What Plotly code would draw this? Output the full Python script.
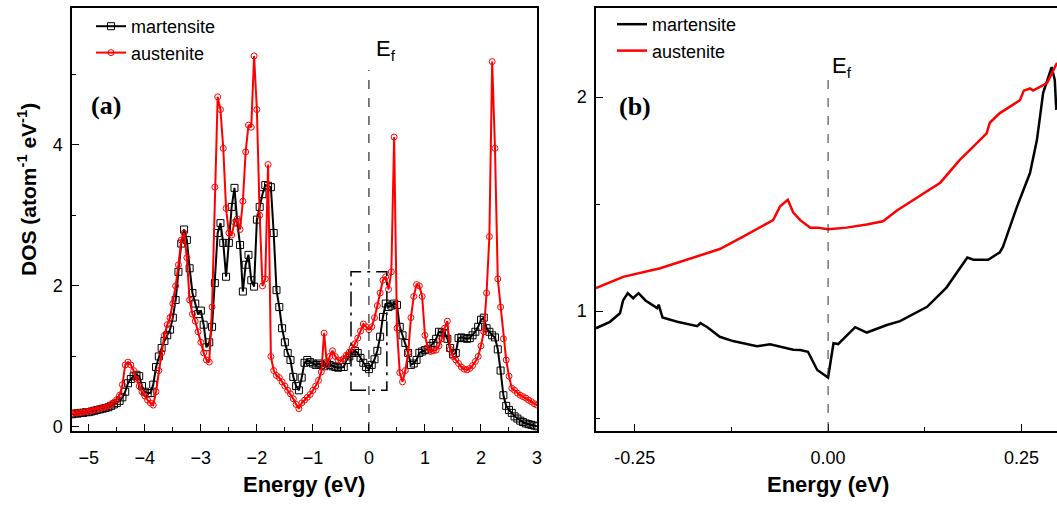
import plotly.graph_objects as go

# ---------------- Panel (a) data ----------------
energy_a = [
    -5.30, -5.25, -5.20, -5.15, -5.10, -5.05, -5.00, -4.95, -4.90, -4.85,
    -4.80, -4.75, -4.70, -4.65, -4.60, -4.55, -4.50, -4.45, -4.40, -4.35,
    -4.30, -4.25, -4.20, -4.15, -4.10, -4.05, -4.00, -3.95, -3.90, -3.85,
    -3.80, -3.75, -3.70, -3.65, -3.60, -3.55, -3.50, -3.45, -3.40, -3.35,
    -3.30, -3.25, -3.20, -3.15, -3.10, -3.05, -3.00, -2.95, -2.90, -2.85,
    -2.80, -2.75, -2.70, -2.65, -2.60, -2.55, -2.50, -2.45, -2.40, -2.35,
    -2.30, -2.25, -2.20, -2.15, -2.10, -2.05, -2.00, -1.95, -1.90, -1.85,
    -1.80, -1.75, -1.70, -1.65, -1.60, -1.55, -1.50, -1.45, -1.40, -1.35,
    -1.30, -1.25, -1.20, -1.15, -1.10, -1.05, -1.00, -0.95, -0.90, -0.85,
    -0.80, -0.75, -0.70, -0.65, -0.60, -0.55, -0.50, -0.45, -0.40, -0.35,
    -0.30, -0.25, -0.20, -0.15, -0.10, -0.05, 0.00, 0.05, 0.10, 0.15,
    0.20, 0.25, 0.30, 0.35, 0.40, 0.45, 0.50, 0.55, 0.60, 0.65,
    0.70, 0.75, 0.80, 0.85, 0.90, 0.95, 1.00, 1.05, 1.10, 1.15,
    1.20, 1.25, 1.30, 1.35, 1.40, 1.45, 1.50, 1.55, 1.60, 1.65,
    1.70, 1.75, 1.80, 1.85, 1.90, 1.95, 2.00, 2.05, 2.10, 2.15,
    2.20, 2.25, 2.30, 2.35, 2.40, 2.45, 2.50, 2.55, 2.60, 2.65,
    2.70, 2.75, 2.80, 2.85, 2.90, 2.95, 3.00,
]

austenite_a = [
    0.19, 0.20, 0.20, 0.21, 0.21, 0.22, 0.22, 0.23, 0.24, 0.25,
    0.26, 0.27, 0.28, 0.30, 0.32, 0.35, 0.39, 0.45, 0.60, 0.88,
    0.92, 0.88, 0.80, 0.68, 0.58, 0.50, 0.44, 0.38, 0.34, 0.31,
    0.50, 0.80, 1.05, 1.30, 1.45, 1.55, 1.75, 2.00, 2.30, 2.65,
    2.75, 2.40, 1.80, 1.60, 1.50, 1.35, 1.20, 1.05, 0.95, 0.92,
    1.70, 3.40, 4.68, 4.50, 3.95, 3.10, 2.75, 2.72, 2.90, 2.95,
    2.80, 3.20, 3.90, 4.28, 4.25, 5.26, 4.50, 3.00, 2.00, 2.10,
    3.72, 1.00, 0.80, 0.73, 0.70, 0.64, 0.58, 0.52, 0.47, 0.40,
    0.32, 0.26, 0.34, 0.38, 0.42, 0.46, 0.52, 0.58, 0.66, 0.78,
    1.33, 0.88, 1.00, 1.08, 1.00, 0.95, 0.94, 0.97, 1.02, 1.06,
    1.12, 1.18, 1.26, 1.36, 1.46, 1.42, 1.38, 1.42, 1.55, 1.72,
    1.90, 2.08, 2.13, 1.95, 2.20, 4.11, 1.40, 0.77, 0.64, 0.80,
    1.05, 1.55, 1.85, 2.02, 2.00, 1.85, 1.30, 1.12, 1.07, 1.08,
    1.09, 1.15, 1.25, 1.40, 1.50, 1.10, 1.00, 0.95, 0.90, 0.85,
    0.82, 0.81, 0.83, 0.87, 0.93, 1.00, 1.15, 1.35, 1.90, 2.70,
    5.18, 3.95, 2.10, 1.70, 1.25, 0.95, 0.72, 0.55, 0.52, 0.48,
    0.45, 0.43, 0.41, 0.38, 0.36, 0.33, 0.31,
]

martensite_a = [
    0.18, 0.19, 0.19, 0.20, 0.20, 0.21, 0.21, 0.22, 0.23, 0.24,
    0.25, 0.26, 0.27, 0.28, 0.30, 0.32, 0.34, 0.37, 0.42, 0.50,
    0.62, 0.68, 0.72, 0.74, 0.72, 0.58, 0.50, 0.48, 0.48, 0.60,
    0.85, 1.00, 1.12, 1.22, 1.30, 1.38, 1.55, 1.80, 2.20, 2.60,
    2.80, 2.65, 2.25, 1.90, 1.75, 1.60, 1.65, 1.45, 1.13, 1.20,
    1.42, 2.04, 2.75, 2.89, 2.61, 2.13, 2.61, 3.12, 3.39, 2.90,
    2.58, 1.92, 2.30, 2.44, 2.08, 1.99, 2.94, 3.12, 3.30, 3.43,
    3.42, 3.40, 2.75, 1.94, 1.70, 1.40, 1.20, 1.05, 0.95, 0.71,
    0.58, 0.52, 0.70, 0.91, 0.95, 0.92, 0.90, 0.88, 0.90, 0.88,
    0.86, 0.90, 0.88, 0.86, 0.85, 0.84, 0.85, 0.85, 0.95, 1.00,
    1.05, 1.08, 1.05, 0.98, 0.91, 0.85, 0.82, 0.88, 0.96, 1.08,
    1.28, 1.56, 1.75, 1.70, 1.72, 1.75, 1.73, 1.42, 1.30, 1.19,
    1.05, 0.88, 0.90, 0.95, 1.05, 1.07, 1.09, 1.10, 1.15, 1.19,
    1.25, 1.35, 1.34, 1.33, 1.25, 1.12, 1.03, 1.05, 1.26, 1.27,
    1.26, 1.25, 1.26, 1.30, 1.35, 1.42, 1.52, 1.55, 1.40, 1.35,
    1.30, 1.27, 1.10, 0.80, 0.45, 0.30, 0.24, 0.20, 0.15, 0.12,
    0.09, 0.07, 0.05, 0.04, 0.03, 0.02, 0.01,
]

# ---------------- Panel (b) data ----------------
energy_b_aus = [
    -0.300, -0.265, -0.217, -0.174, -0.140, -0.111, -0.088, -0.071, -0.062, -0.052,
    -0.045, -0.036, -0.023, -0.014, 0.000, 0.024, 0.050, 0.071, 0.089, 0.106,
    0.145, 0.170, 0.205, 0.209, 0.222, 0.248, 0.253, 0.261, 0.265, 0.283, 0.296,
]
austenite_b = [
    1.107, 1.16, 1.20, 1.25, 1.29, 1.346, 1.39, 1.425, 1.49, 1.52,
    1.46, 1.425, 1.39, 1.39, 1.383, 1.39, 1.405, 1.42, 1.47, 1.51,
    1.60, 1.705, 1.83, 1.88, 1.925, 1.985, 2.03, 2.04, 2.03, 2.065, 2.16,
]

energy_b_mar = [
    -0.300, -0.282, -0.269, -0.265, -0.259, -0.252, -0.245, -0.236, -0.221, -0.219,
    -0.214, -0.195, -0.169, -0.165, -0.156, -0.140, -0.123, -0.092, -0.075, -0.045,
    -0.036, -0.026, -0.014, 0.000, 0.007, 0.013, 0.035, 0.050, 0.076, 0.093,
    0.128, 0.153, 0.180, 0.188, 0.207, 0.222, 0.226, 0.244, 0.261, 0.270,
    0.278, 0.289, 0.293, 0.295,
]
martensite_b = [
    0.92, 0.95, 0.99, 1.05, 1.084, 1.06, 1.084, 1.05, 1.014, 1.03,
    0.97, 0.95, 0.93, 0.944, 0.925, 0.88, 0.86, 0.836, 0.845, 0.82,
    0.818, 0.81, 0.725, 0.69, 0.85, 0.846, 0.925, 0.90, 0.935, 0.953,
    1.02, 1.11, 1.25, 1.24, 1.24, 1.275, 1.30, 1.486, 1.645, 1.80,
    2.02, 2.14, 2.08, 1.94,
]

x_ticks_a = [-5, -4, -3, -2, -1, 0, 1, 2, 3]
y_ticks_a = [0, 2, 4]
x_ticks_b = [-0.25, 0.0, 0.25]
x_ticklabels_b = ["-0.25", "0.00", "0.25"]
y_ticks_b = [1, 2]

SANS = "Liberation Sans, Arial, sans-serif"
SERIF = "Liberation Serif, Times New Roman, serif"
W, H = 1057, 505

fig = go.Figure()

fig.add_trace(go.Scatter(
    x=energy_a, y=martensite_a, name="martensite", mode="lines+markers",
    line=dict(color="black", width=2),
    marker=dict(symbol="square-open", size=7, color="black", line=dict(width=1)),
    xaxis="x", yaxis="y", legend="legend"))
fig.add_trace(go.Scatter(
    x=energy_a, y=austenite_a, name="austenite", mode="lines+markers",
    line=dict(color="#ff0000", width=2),
    marker=dict(symbol="circle-open", size=6, color="#ff0000", line=dict(width=1)),
    xaxis="x", yaxis="y", legend="legend"))

fig.add_trace(go.Scatter(
    x=energy_b_mar, y=martensite_b, name="martensite", mode="lines",
    line=dict(color="black", width=2.5),
    xaxis="x2", yaxis="y2", legend="legend2"))
fig.add_trace(go.Scatter(
    x=energy_b_aus, y=austenite_b, name="austenite", mode="lines",
    line=dict(color="#ff0000", width=2.5),
    xaxis="x2", yaxis="y2", legend="legend2"))

ydom = [1 - 431 / H, 1 - 8 / H]
axis_common = dict(showgrid=False, zeroline=False, showline=True, linecolor="black",
                   linewidth=1.5, ticks="inside", ticklen=7, tickwidth=1.2,
                   tickcolor="black", tickfont=dict(family=SANS, size=18, color="black"))

fig.update_layout(
    width=W, height=H, margin=dict(l=0, r=0, t=0, b=0, autoexpand=False),
    paper_bgcolor="white", plot_bgcolor="white",
    xaxis=dict(domain=[72 / W, 537 / W], range=[-5.3, 3.0], anchor="y",
               tickvals=x_ticks_a, mirror=True, ticklabelstandoff=10,
               minor=dict(tickvals=[-4.5, -3.5, -2.5, -1.5, -0.5, 0.5, 1.5, 2.5],
                          ticks="inside", ticklen=4, tickcolor="black"),
               **axis_common),
    yaxis=dict(domain=ydom, range=[-0.057, 5.94], anchor="x",
               tickvals=y_ticks_a, mirror=True, ticklabelstandoff=4,
               minor=dict(tickvals=[1, 3, 5], ticks="inside", ticklen=4, tickcolor="black"),
               **axis_common),
    xaxis2=dict(domain=[596 / W, 1.0], range=[-0.3, 0.2959], anchor="y2",
                tickvals=x_ticks_b, ticktext=x_ticklabels_b, mirror=True, ticklabelstandoff=10,
                minor=dict(tickvals=[-0.125, 0.125], ticks="inside", ticklen=4, tickcolor="black"),
                **axis_common),
    yaxis2=dict(domain=ydom, range=[0.44, 2.416], anchor="x2",
                tickvals=y_ticks_b, mirror=False, ticklabelstandoff=4,
                minor=dict(tickvals=[0.5, 1.5], ticks="inside", ticklen=4, tickcolor="black"),
                **axis_common),
    legend=dict(x=91 / W, y=1 - 8 / H, xanchor="left", yanchor="top",
                bgcolor="rgba(0,0,0,0)", font=dict(family=SANS, size=18, color="black"),
                tracegroupgap=0, itemwidth=30),
    legend2=dict(x=612 / W, y=1 - 6 / H, xanchor="left", yanchor="top",
                 bgcolor="rgba(0,0,0,0)", font=dict(family=SANS, size=18, color="black"),
                 tracegroupgap=0, itemwidth=30),
    showlegend=True,
)

# Fermi level lines
fig.add_shape(type="line", xref="x", yref="y", x0=0, x1=0, y0=-0.057, y1=5.06,
              line=dict(color="black", width=1, dash="dash"))
fig.add_shape(type="line", xref="x2", yref="y2", x0=0, x1=0, y0=0.44, y1=2.09,
              line=dict(color="#333333", width=1, dash="dash"))
# zoom box
fig.add_shape(type="rect", xref="x", yref="y", x0=-0.32, x1=0.32, y0=0.52, y1=2.2,
              line=dict(color="black", width=1.5, dash="longdashdot"))

# arrow from box to panel (b)
fig.add_annotation(xref="x2", yref="y2", x=-0.3036, y=1.26, ax=-208, ay=16,
                   showarrow=True, arrowhead=2, arrowsize=1, arrowwidth=1.5,
                   arrowcolor="black", text="")


def label(x, y, text, font, **kw):
    fig.add_annotation(xref="paper", yref="paper", x=x / W, y=1 - y / H, text=text,
                       showarrow=False, xanchor=kw.pop("xanchor", "center"),
                       yanchor="middle", font=font, **kw)


label(106, 106, "<b>(a)</b>", dict(family=SERIF, size=26, color="black"))
label(635, 107, "<b>(b)</b>", dict(family=SERIF, size=26, color="black"))
label(374, 50, "E<sub>f</sub>", dict(family=SANS, size=22, color="black"), xanchor="left")
label(830, 67, "E<sub>f</sub>", dict(family=SANS, size=22, color="black"), xanchor="left")
label(304, 484, "<b>Energy (eV)</b>", dict(family=SANS, size=22, color="black"))
label(828, 484, "<b>Energy (eV)</b>", dict(family=SANS, size=22, color="black"))
label(27, 190, "<b>DOS (atom<sup>-1</sup> eV<sup>-1</sup>)</b>",
      dict(family=SANS, size=21, color="black"), textangle=-90)

fig.write_html("out.html", config={"displayModeBar": False},
               post_script="document.body.style.margin='0';")
